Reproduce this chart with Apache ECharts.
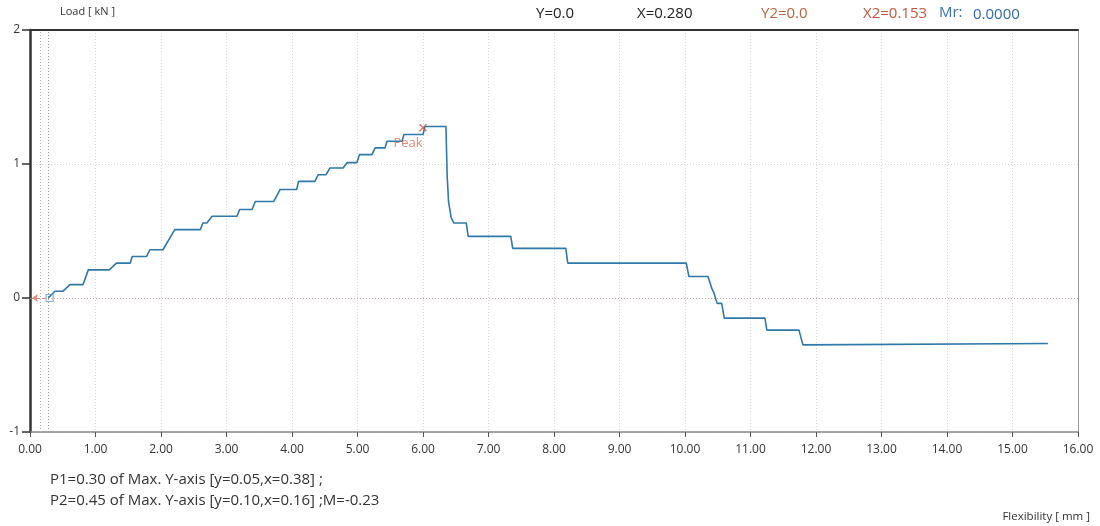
<!DOCTYPE html>
<html>
<head>
<meta charset="utf-8">
<script src="https://cdn.jsdelivr.net/npm/echarts@6/dist/echarts.min.js"></script>
<style>
  html, body { margin: 0; padding: 0; background: #fff; }
  #chart { width: 1100px; height: 526px; }
</style>
</head>
<body>
<div id="chart"></div>
<script>
// load curve (x: flexibility mm, y: load kN)
var flex = [0.28, 0.31, 0.38, 0.50, 0.61, 0.81, 0.89, 1.21, 1.32, 1.53, 1.56, 1.78, 1.83, 2.03, 2.21, 2.60, 2.64, 2.70, 2.78,
  3.16, 3.20, 3.39, 3.44, 3.72, 3.82, 4.07, 4.10, 4.35, 4.40, 4.52, 4.58, 4.78, 4.84, 4.99, 5.03, 5.22, 5.27, 5.42, 5.45,
  5.68, 5.71, 6.00, 6.03, 6.35, 6.37, 6.39, 6.43, 6.47, 6.66, 6.69, 7.34, 7.37, 8.18, 8.21, 10.02, 10.06, 10.35, 10.41,
  10.44, 10.49, 10.56, 10.60, 11.22, 11.25, 11.74, 11.80, 15.54];
var load = [0, 0, 0.05, 0.05, 0.10, 0.10, 0.21, 0.21, 0.26, 0.26, 0.31, 0.31, 0.36, 0.36, 0.51, 0.51, 0.56, 0.56, 0.61,
  0.61, 0.66, 0.66, 0.72, 0.72, 0.81, 0.81, 0.87, 0.87, 0.92, 0.92, 0.97, 0.97, 1.01, 1.01, 1.07, 1.07, 1.12, 1.12, 1.17,
  1.17, 1.22, 1.22, 1.28, 1.28, 0.90, 0.72, 0.60, 0.56, 0.56, 0.46, 0.46, 0.37, 0.37, 0.26, 0.26, 0.16, 0.16, 0.07,
  0.04, -0.04, -0.04, -0.15, -0.15, -0.24, -0.24, -0.35, -0.34];
var peak = [6.00, 1.27];
var cursorX = [0.153, 0.280];
var startArrow = [[0.03, 0], [0.23, 0]];
var startBox = [[0.30, 0]];
var xTicks = { min: 0, max: 16, step: 1 };
var yTicks = { min: -1, max: 2, step: 1 };
var headerTexts = ['Y=0.0', 'X=0.280', 'Y2=0.0', 'X2=0.153', 'Mr:', '0.0000'];
var notes = ['P1=0.30 of Max. Y-axis [y=0.05,x=0.38] ;', 'P2=0.45 of Max. Y-axis [y=0.10,x=0.16] ;M=-0.23'];

var font = '"Open Sans", "Noto Sans", sans-serif';
var curve = flex.map(function (x, i) { return [x, load[i]]; });

var chart = echarts.init(document.getElementById('chart'));
var option = {
  animation: false,
  grid: { left: 30, right: 22, top: 30, bottom: 94 },
  xAxis: [{
    type: 'value',
    min: xTicks.min, max: xTicks.max, interval: xTicks.step,
    axisLine: { onZero: false, lineStyle: { color: '#888', width: 1.5 } },
    axisTick: { show: true, length: 5, lineStyle: { color: '#555' } },
    axisLabel: { color: '#333', fontSize: 12, fontFamily: font, margin: 12,
      formatter: function (v) { return v.toFixed(2); } },
    splitLine: { show: true, lineStyle: { color: '#d6d6d6', type: [1, 2] } }
  }, {
    type: 'value', position: 'top',
    min: xTicks.min, max: xTicks.max,
    axisLine: { show: true, onZero: false, lineStyle: { color: '#333', width: 2 } },
    axisTick: { show: false }, axisLabel: { show: false }, splitLine: { show: false }
  }],
  yAxis: [{
    type: 'value',
    min: yTicks.min, max: yTicks.max, interval: yTicks.step,
    axisLine: { show: true, onZero: false, lineStyle: { color: '#333', width: 2.5 } },
    axisTick: { show: true, length: 8, lineStyle: { color: '#333', width: 1.5 } },
    axisLabel: { color: '#333', fontSize: 12, fontFamily: font, margin: 10 },
    splitLine: { show: true, lineStyle: { color: '#d6d6d6', type: [1, 2] } }
  }, {
    type: 'value', position: 'right',
    min: yTicks.min, max: yTicks.max,
    axisLine: { show: true, onZero: false, lineStyle: { color: '#999', width: 1 } },
    axisTick: { show: false }, axisLabel: { show: false }, splitLine: { show: false }
  }],
  series: [{
    type: 'line',
    data: curve,
    showSymbol: false,
    lineStyle: { color: '#2f78aa', width: 1.6 },
    z: 5,
    markLine: {
      silent: true, symbol: 'none', label: { show: false },
      data: [
        { xAxis: cursorX[0], lineStyle: { color: '#aaa', type: [1, 2], width: 1 } },
        { xAxis: cursorX[1], lineStyle: { color: '#999', type: [1, 2], width: 1 } },
        { yAxis: 0, lineStyle: { color: '#c9a4a0', type: [1, 2], width: 1.2 } },
        [{ coord: startArrow[0], symbol: 'arrow', symbolSize: 6,
           lineStyle: { color: '#e0897e', type: [3, 2], width: 1.2 } },
         { coord: startArrow[1], symbol: 'none' }]
      ]
    }
  }, {
    type: 'scatter',
    data: startBox,
    symbol: 'rect',
    symbolSize: [7, 7],
    itemStyle: { color: 'rgba(0,0,0,0)', borderColor: '#6e9cc4', borderWidth: 1.2 },
    z: 6
  }, {
    type: 'scatter',
    data: [peak],
    symbol: 'path://M0,0L10,10M10,0L0,10',
    symbolSize: 7,
    itemStyle: { color: 'rgba(0,0,0,0)', borderColor: '#cc5a45', borderWidth: 1.5 },
    label: { show: true, formatter: 'Peak', position: 'bottom', offset: [-15, 0],
      color: '#cf6a52', fontSize: 13, fontFamily: font },
    z: 7
  }],
  graphic: [
    { type: 'text', left: 60, top: 6, style: { text: 'Load [ kN ]', fill: '#333', font: '11px ' + font } },
    { type: 'text', left: 536, top: 6, style: { text: headerTexts[0], fill: '#222', font: '15px ' + font } },
    { type: 'text', left: 637, top: 6, style: { text: headerTexts[1], fill: '#222', font: '15px ' + font } },
    { type: 'text', left: 761, top: 6, style: { text: headerTexts[2], fill: '#b8643f', font: '15px ' + font } },
    { type: 'text', left: 863, top: 6, style: { text: headerTexts[3], fill: '#c4553f', font: '15px ' + font } },
    { type: 'text', left: 939, top: 5, style: { text: headerTexts[4], fill: '#3d73a8', font: '15px ' + font } },
    { type: 'text', left: 973, top: 7, style: { text: headerTexts[5], fill: '#2f6aaa', font: '15px ' + font } },
    { type: 'text', left: 50, top: 472, style: { text: notes[0], fill: '#333', font: '15px ' + font } },
    { type: 'text', left: 50, top: 493, style: { text: notes[1], fill: '#333', font: '15px ' + font } },
    { type: 'text', right: 10, top: 511, style: { text: 'Flexibility [ mm ]', fill: '#333', font: '11.5px ' + font } }
  ]
};
chart.setOption(option);
window.addEventListener('resize', function () { chart.resize(); });
</script>
</body>
</html>
